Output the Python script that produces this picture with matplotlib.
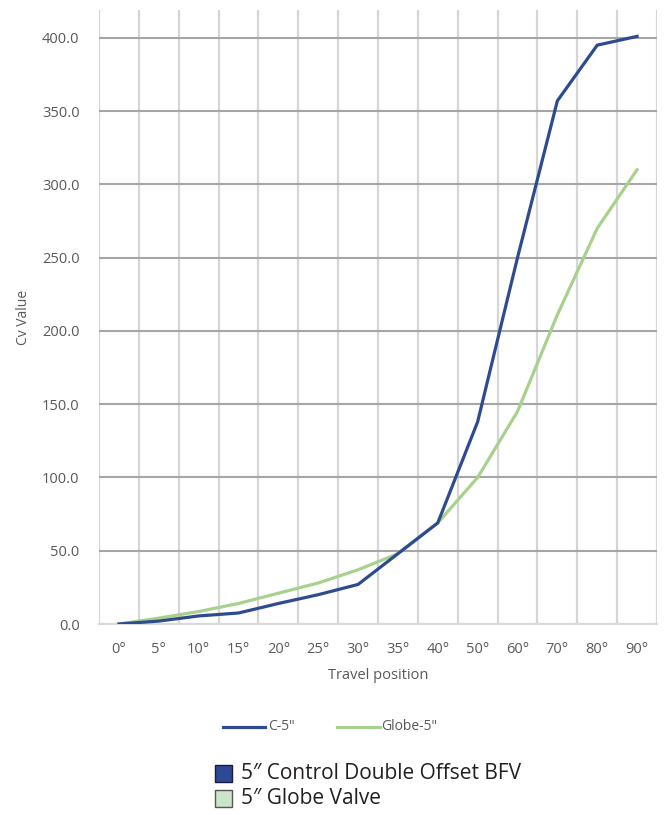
import matplotlib
matplotlib.use("Agg")
import matplotlib.pyplot as plt
from matplotlib.patches import Rectangle
from matplotlib.lines import Line2D

categories = ["0°", "5°", "10°", "15°", "20°", "25°", "30°", "35°", "40°", "50°", "60°", "70°", "80°", "90°"]
c5_values = [0, 2, 5.5, 7.5, 14, 20, 27, 48, 69, 138, 250, 357, 395, 401]
globe5_values = [0, 4, 8.5, 14, 21, 28, 37, 48, 69, 100, 145, 211, 270, 310]
y_ticks = [0, 50, 100, 150, 200, 250, 300, 350, 400]
series_names = ['C-5"', 'Globe-5"']
box_labels = ["5\u2033 Control Double Offset BFV", "5\u2033 Globe Valve"]

BLUE = "#2f4b8f"
GREEN = "#a9d18e"
TXT = "#595959"

plt.rcParams['font.family'] = ['Open Sans', 'DejaVu Sans']

fig = plt.figure(figsize=(6.64, 8.15), dpi=100)
ax = fig.add_axes([99/664, 1-624/815, (657-99)/664, (624-10)/815])

x = list(range(len(categories)))
ax.plot(x, c5_values, color=BLUE, lw=2.3, solid_joinstyle='miter', zorder=3)
ax.plot(x, globe5_values, color=GREEN, lw=2.3, solid_joinstyle='miter', zorder=2)

ax.set_xlim(-0.5, len(categories) - 0.5)
ax.set_ylim(0, 419)
ax.set_xticks(x)
ax.set_xticklabels(categories)
ax.set_xticks([i - 0.5 for i in range(len(categories) + 1)], minor=True)
ax.set_yticks(y_ticks)
ax.set_yticklabels([f"{v:.1f}" for v in y_ticks])

ax.grid(True, which='minor', axis='x', color='#d6d6d6', lw=1.6)
ax.grid(True, which='major', axis='y', color='#a6a6a6', lw=1.5)
ax.grid(False, which='major', axis='x')
ax.set_axisbelow(True)
for s in ['top', 'right', 'left']:
    ax.spines[s].set_visible(False)
ax.spines['bottom'].set_color('#d9d9d9')
ax.spines['bottom'].set_linewidth(1.5)
ax.tick_params(axis='both', which='both', length=0, colors=TXT, labelsize=10.5)
ax.tick_params(axis='x', pad=13)
ax.tick_params(axis='y', pad=14)

ax.set_xlabel("Travel position", color=TXT, fontsize=10.5, labelpad=8)
ax.set_ylabel("Cv Value", color=TXT, fontsize=10, labelpad=8)

# line legend (manual placement)
leg_y = 1 - 727/815
for (x0, x1, tx), col, name in zip([(223, 265, 268), (337, 380, 381)], [BLUE, GREEN], series_names):
    fig.add_artist(Line2D([x0/664, x1/664], [leg_y, leg_y], color=col, lw=2.3,
                          transform=fig.transFigure))
    fig.text(tx/664, leg_y, name, color=TXT, fontsize=10, va='center', ha='left')

# box legend
for i, (lab, col) in enumerate(zip(box_labels, [("#2e4894", "#1a1a40"), ("#cbe5c8", "#555555")])):
    ytop = 765 + i * 25
    fig.patches.append(Rectangle((215/664, 1-(ytop+17)/815), 17/664, 17/815,
                                 transform=fig.transFigure, facecolor=col[0],
                                 edgecolor=col[1], lw=1.0))
    fig.text(241/664, 1-(ytop+8.5)/815, lab, fontsize=15, color="#231f20",
             va='center', ha='left')

fig.savefig("out.png", dpi=100)
